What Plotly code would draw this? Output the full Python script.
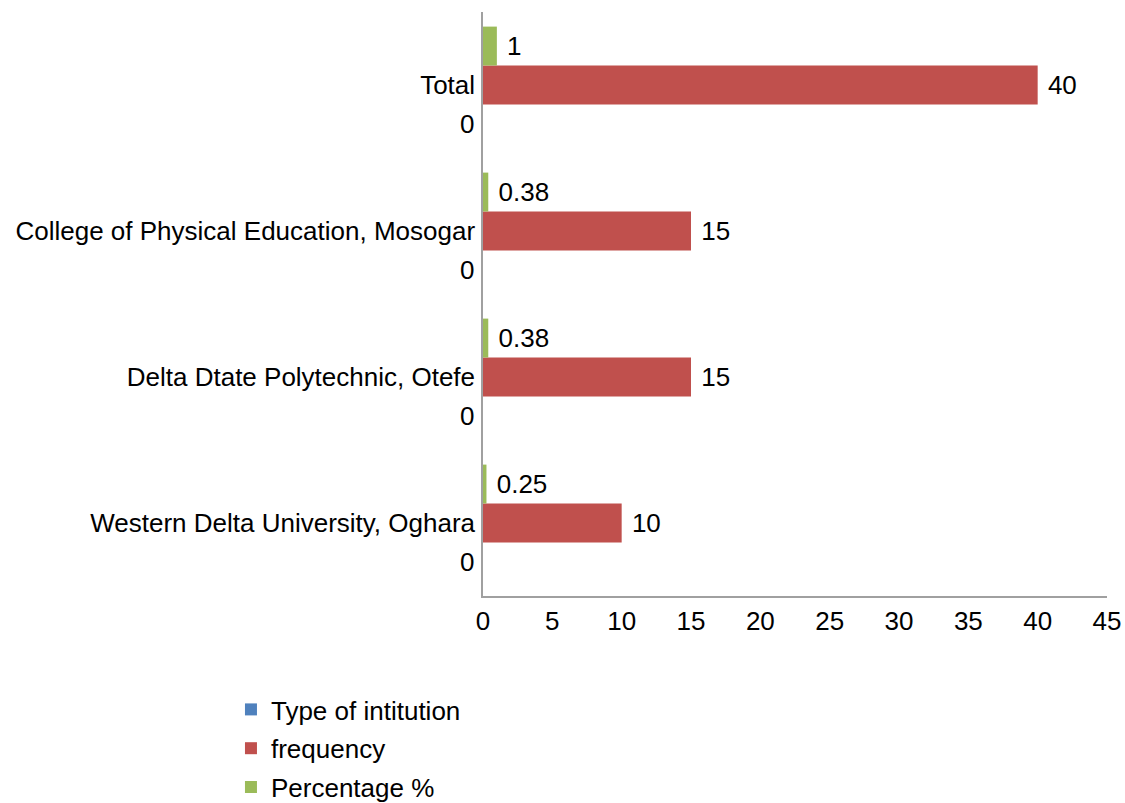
import plotly.graph_objects as go

categories = ["Western Delta University, Oghara", "Delta Dtate Polytechnic, Otefe",
              "College of Physical Education, Mosogar", "Total"]
type_of_institution = [0, 0, 0, 0]
frequency = [10, 15, 15, 40]
percentage = [0.25, 0.38, 0.38, 1]
x_ticks = [0, 5, 10, 15, 20, 25, 30, 35, 40, 45]

FONT = "Liberation Sans, Arial, sans-serif"
FS = 26
fig = go.Figure()
series = [("Type of intitution", type_of_institution, "#4F81BD"),
          ("frequency", frequency, "#C0504D"),
          ("Percentage %", percentage, "#9BBB59")]
for name, vals, col in series:
    show_text = name != "Type of intitution"
    fig.add_trace(go.Bar(
        y=categories, x=vals, name=name, orientation="h",
        marker=dict(color=col, line=dict(width=0)),
        texttemplate=" %{x}" if show_text else None,
        textposition="outside" if show_text else "none",
        textfont=dict(size=FS, color="black", family=FONT),
        cliponaxis=False, legendgroup=name,
    ))

# zero labels for the "Type of intitution" series, shown left of the axis
for c, v in zip(categories, type_of_institution):
    fig.add_annotation(x=0, y=c, xref="x", yref="y", text=str(v), showarrow=False,
                       xanchor="right", xshift=-7, yshift=-39,
                       font=dict(size=FS, color="black", family=FONT))

fig.update_layout(
    width=1125, height=803,
    barmode="group", bargap=0.2, bargroupgap=0,
    plot_bgcolor="white", paper_bgcolor="white",
    margin=dict(l=483, r=18, t=12, b=207),
    font=dict(family=FONT, size=FS, color="black"),
    xaxis=dict(range=[0, 45], tickvals=x_ticks, showgrid=False, zeroline=False,
               showline=True, linecolor="#A0A0A0", linewidth=1.5, ticks="",
               tickfont=dict(size=FS), ticklabelstandoff=1, fixedrange=True,
               automargin=False),
    yaxis=dict(showgrid=False, zeroline=False, showline=True, linecolor="#A0A0A0",
               linewidth=1.5, ticks="", ticklen=0, tickfont=dict(size=FS),
               ticklabelstandoff=1, automargin=False),
    legend=dict(xref="container", yref="container", x=0.2053, y=0.1457,
                xanchor="left", yanchor="top",
                orientation="v", traceorder="grouped", tracegroupgap=2,
                font=dict(size=FS, family=FONT)),
    showlegend=True,
)
fig.write_html("out.html", config={"displayModeBar": False},
               post_script="document.body.style.margin='0';document.body.style.overflow='hidden';")
